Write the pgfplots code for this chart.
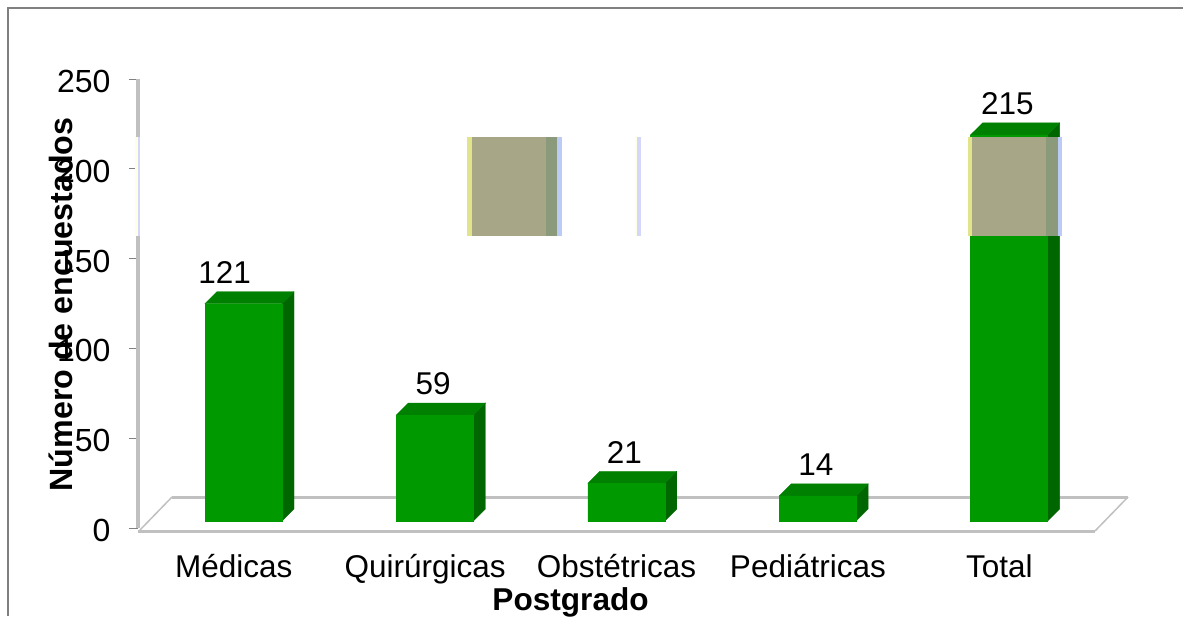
\documentclass[border=0pt]{standalone}
\usepackage{fontspec}
\setmainfont{Liberation Sans}
\usepackage{pgfplots}
\pgfplotsset{compat=1.18}
\definecolor{barfront}{HTML}{009900}
\definecolor{barcap}{HTML}{008000}
\definecolor{barside}{HTML}{006600}
\definecolor{floorgray}{HTML}{C0C0C0}
\definecolor{tickgray}{HTML}{808080}
\definecolor{tan}{HTML}{A7A787}
\definecolor{tanside}{HTML}{8A9A7A}
\definecolor{edgeyellow}{HTML}{E2E48C}
\definecolor{edgeblue}{HTML}{BCCBF5}
\definecolor{paleyellow}{HTML}{FFFFE4}
\definecolor{paleblue}{HTML}{D4D6FA}
\pgfplotsset{
    side/.style={fill=barside,draw=barside,line width=0.3pt,yshift=7pt},
    cap/.style={fill=barcap,draw=barcap,line width=0.3pt,yshift=7pt},
}
\begin{document}
\begin{tikzpicture}[x=1pt,y=1pt]
\useasboundingbox (0,0) rectangle (1183,-616);
\draw[tickgray,line width=2pt] (8,-616) -- (8,-8) -- (1183,-8);
\begin{axis}[
    at={(138pt,-528pt)},
    anchor=south west,
    scale only axis,
    width=957pt,
    height=449pt,
    xmin=-0.5, xmax=4.5,
    ymin=0, ymax=250,
    clip=false,
    separate axis lines,
    axis x line*=bottom,
    axis y line*=left,
    x axis line style={draw=none},
    y axis line style={draw=floorgray,line width=4pt,-},
    xtick={0,1,2,3,4},
    xticklabels={Médicas,Quirúrgicas,Obstétricas,Pediátricas,Total},
    ytick={0,50,100,150,200,250},
    tick align=outside,
    major tick length=9pt,
    xtick style={draw=none},
    ytick style={draw=tickgray,line width=1pt},
    xticklabel style={font=\fontsize{31.5}{36}\selectfont,yshift=-14pt},
    yticklabel style={font=\fontsize{32}{36}\selectfont,xshift=-15pt,yshift=-2.5pt},
    /pgf/number format/assume math mode=true,
    xlabel={Postgrado},
    ylabel={Número de encuestados},
    every axis x label/.style={at={(axis description cs:0.452,-0.165)},anchor=center,font=\fontsize{31.6}{36}\selectfont\bfseries},
    every axis y label/.style={at={(axis description cs:-0.081,0.498)},anchor=center,rotate=90,font=\fontsize{32.2}{36}\selectfont\bfseries},
]
% floor
\addplot[floorgray,line width=3pt] coordinates {(-0.5,-1.67) (4.5,-1.67)};
\addplot[floorgray,line width=3pt] coordinates {(-0.3224,17.26) (4.6724,17.26)};
\addplot[floorgray,line width=1.5pt] coordinates {(-0.4896,-1.1) (-0.3224,17.26)};
\addplot[floorgray,line width=1.5pt] coordinates {(4.5,-1.67) (4.6724,17.26)};

% bar sides and caps
\addplot[side] coordinates {(0.2524,0) (0.3151,6.68) (0.3151,127.68) (0.2524,121)} -- cycle;
\addplot[cap] coordinates {(-0.15,121) (-0.0873,127.68) (0.3151,127.68) (0.2524,121)} -- cycle;
\addplot[side] coordinates {(1.2524,0) (1.3151,6.68) (1.3151,65.68) (1.2524,59)} -- cycle;
\addplot[cap] coordinates {(0.85,59) (0.9127,65.68) (1.3151,65.68) (1.2524,59)} -- cycle;
\addplot[side] coordinates {(2.2524,0) (2.3151,6.68) (2.3151,27.68) (2.2524,21)} -- cycle;
\addplot[cap] coordinates {(1.85,21) (1.9127,27.68) (2.3151,27.68) (2.2524,21)} -- cycle;
\addplot[side] coordinates {(3.2524,0) (3.3151,6.68) (3.3151,20.68) (3.2524,14)} -- cycle;
\addplot[cap] coordinates {(2.85,14) (2.9127,20.68) (3.3151,20.68) (3.2524,14)} -- cycle;
\addplot[side] coordinates {(4.2524,0) (4.3151,6.68) (4.3151,221.68) (4.2524,215)} -- cycle;
\addplot[cap] coordinates {(3.85,215) (3.9127,221.68) (4.3151,221.68) (4.2524,215)} -- cycle;

% bar fronts with the values
\addplot[ybar,bar width=77pt,bar shift=9.8pt,fill=barfront,draw=barfront,line width=0.3pt,yshift=7pt,
    nodes near coords,
    every node near coord/.style={font=\fontsize{31.5}{36}\selectfont,text=black,anchor=south,inner sep=0pt,xshift=8pt,yshift=20pt},
    coordinate style/.condition={x==0}{xshift=-17pt}]
    coordinates {(0,121) (1,59) (2,21) (3,14) (4,215)};
\end{axis}
\begin{axis}[
    at={(138pt,-528pt)},
    anchor=south west,
    scale only axis,
    width=957pt,
    height=449pt,
    xmin=-0.5, xmax=4.5,
    ymin=0, ymax=250,
    clip=false,
    hide axis,
]
% washed-out band between 163 and 218
\addplot[fill=paleyellow,draw=none] coordinates {(-0.5157,162.6) (-0.5,162.6) (-0.5,217.7) (-0.5157,217.7)} -- cycle;
\addplot[fill=paleblue,draw=none] coordinates {(-0.5,162.6) (-0.4896,162.6) (-0.4896,217.7) (-0.5,217.7)} -- cycle;

\addplot[fill=edgeyellow,draw=none] coordinates {(1.2189,162.6) (1.2450,162.6) (1.2450,217.7) (1.2189,217.7)} -- cycle;
\addplot[fill=tan,draw=none] coordinates {(1.2450,162.6) (1.6317,162.6) (1.6317,217.7) (1.2450,217.7)} -- cycle;
\addplot[fill=tanside,draw=none] coordinates {(1.6317,162.6) (1.6891,162.6) (1.6891,217.7) (1.6317,217.7)} -- cycle;
\addplot[fill=edgeblue,draw=none] coordinates {(1.6891,162.6) (1.7152,162.6) (1.7152,217.7) (1.6891,217.7)} -- cycle;

\addplot[fill=paleyellow,draw=none] coordinates {(2.0966,162.6) (2.1071,162.6) (2.1071,217.7) (2.0966,217.7)} -- cycle;
\addplot[fill=paleblue,draw=none] coordinates {(2.1071,162.6) (2.1280,162.6) (2.1280,217.7) (2.1071,217.7)} -- cycle;

\addplot[fill=edgeyellow,draw=none] coordinates {(3.8365,162.6) (3.8574,162.6) (3.8574,217.7) (3.8365,217.7)} -- cycle;
\addplot[fill=tan,draw=none] coordinates {(3.8574,162.6) (4.2438,162.6) (4.2438,217.7) (3.8574,217.7)} -- cycle;
\addplot[fill=tanside,draw=none] coordinates {(4.2438,162.6) (4.3065,162.6) (4.3065,217.7) (4.2438,217.7)} -- cycle;
\addplot[fill=edgeblue,draw=none] coordinates {(4.3065,162.6) (4.3274,162.6) (4.3274,217.7) (4.3065,217.7)} -- cycle;
\end{axis}
\end{tikzpicture}
\end{document}
